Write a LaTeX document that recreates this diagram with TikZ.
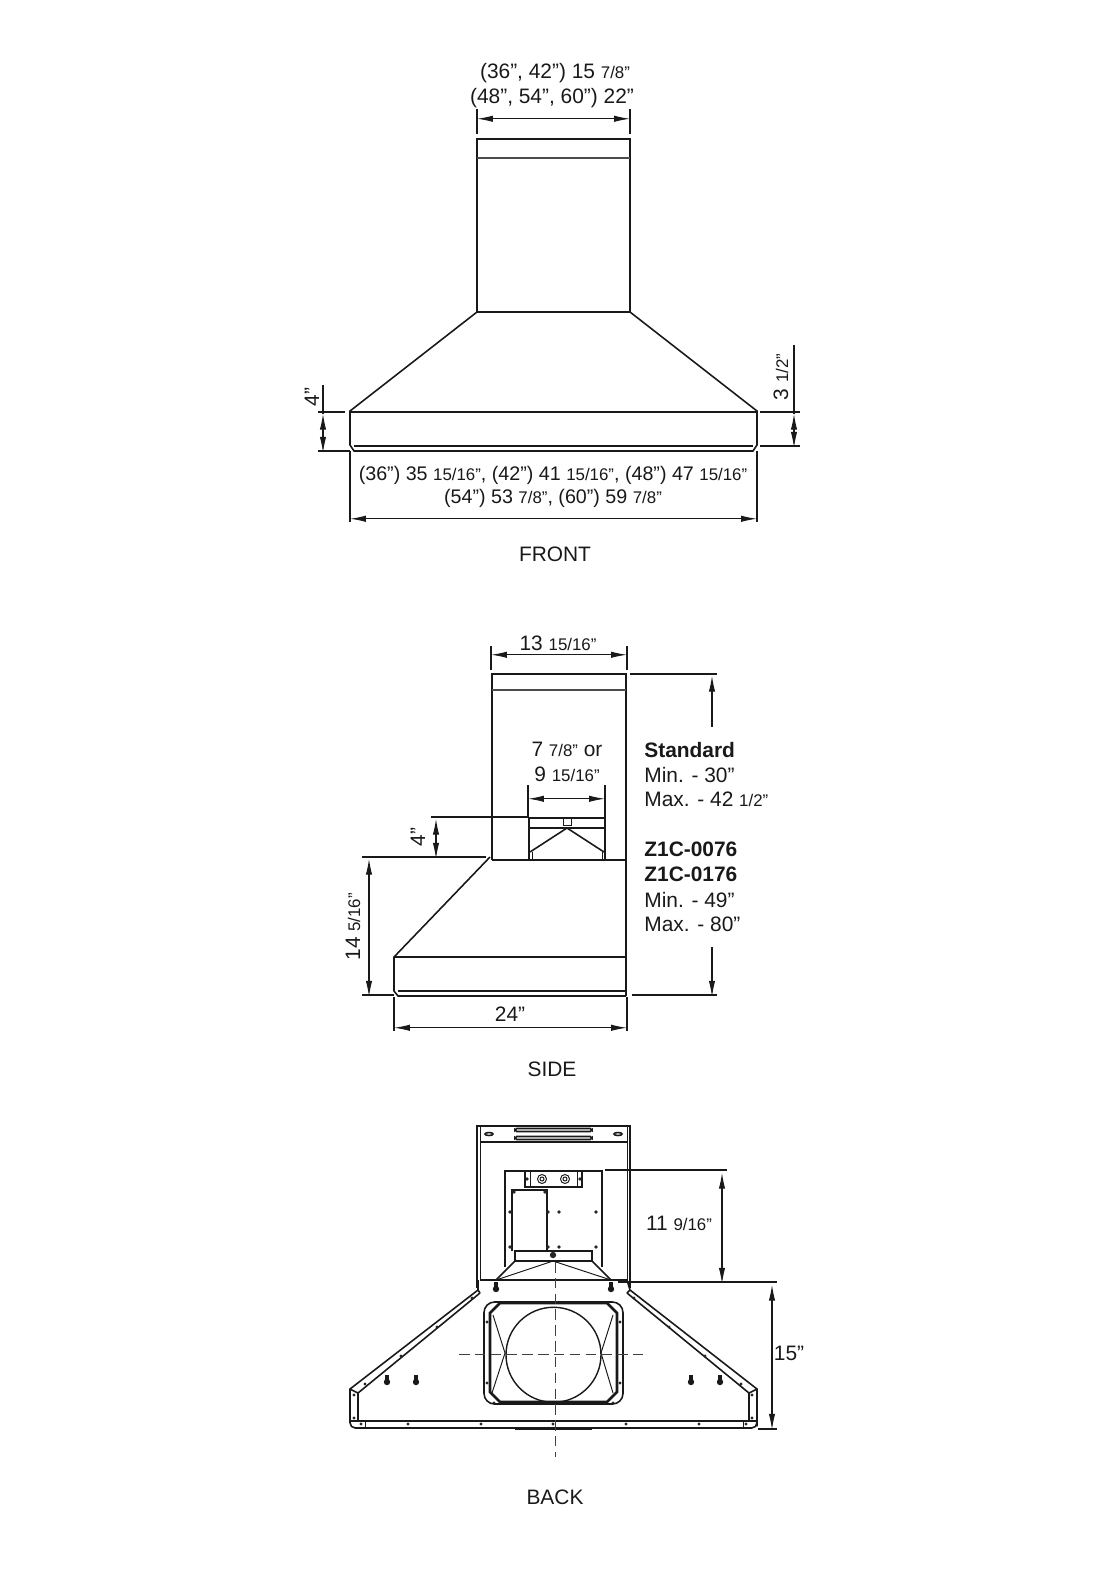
\documentclass[tikz,border=0pt]{standalone}
\usepackage{fontspec}
\setmainfont{Liberation Sans}
\usetikzlibrary{arrows.meta, positioning, calc}
\newcommand{\sm}[1]{{\fontsize{9.6}{11}\selectfont #1}}

\begin{document}
\begin{tikzpicture}[x=0.02cm,y=-0.02cm,
    every node/.style={font=\fontsize{11.9}{14}\selectfont,inner sep=0pt,text=black!90,yshift=-1pt},
    boldtext/.style={font=\fontsize{11.9}{14}\selectfont\bfseries},
    body/.style={line width=0.9pt,black!90},
    bandline/.style={line width=0.9pt,black!70},
    thickline/.style={line width=1.5pt,black!90},
    thinline/.style={line width=0.55pt,black!90},
    extline/.style={line width=0.6pt,black!90},
    dimline/.style={line width=0.6pt,black!90,{Latex[length=9pt,width=3.6pt]}-{Latex[length=9pt,width=3.6pt]}},
    centerline/.style={line width=0.5pt,black!75,dash pattern=on 6pt off 3pt}]
  \useasboundingbox (0,0) rectangle (1110,1570);

  % front view
  \coordinate (fa) at (477,117);
  \coordinate (fb) at (630,117);
  \coordinate (fc) at (350,517);
  \coordinate (fd) at (757,517);
  \coordinate (fe) at (323,412);
  \coordinate (ff) at (323,451);
  \coordinate (fg) at (794,412);
  \coordinate (fh) at (794,446);
  \draw[body] (477,139) rectangle (630,312);
  \draw[bandline] (477,158) -- (630,158);
  \draw[body] (477,312) -- (350,411) -- (350,445) -- (354,451) -- (753,451) -- (757,445) -- (757,411) -- (630,312);
  \draw[thickline] (350,412) -- (757,412);
  \draw[thickline] (354,446) -- (753,446);
  \draw[thickline] (510,451) -- (597,451);
  \draw[extline] (477,109) -- (477,134);
  \draw[extline] (630,109) -- (630,134);
  \draw[dimline] (fa) -- (fb);
  \draw[extline] (350,451) -- (350,522);
  \draw[extline] (757,451) -- (757,522);
  \draw[dimline] (fc) -- (fd);
  \draw[extline] (318,412) -- (345,412);
  \draw[extline] (318,451) -- (350,451);
  \draw[extline] (323,385) -- (fe);
  \draw[dimline] (fe) -- (ff);
  \draw[extline] (760,412) -- (800,412);
  \draw[extline] (760,446) -- (800,446);
  \draw[extline] (794,345) -- (fg);
  \draw[dimline] (fg) -- (fh);
  \node (fw1) at (555,71) {(36”, 42”) 15 \sm{7/8”}};
  \node (fw2) at (552,96) {(48”, 54”, 60”) 22”};
  \node[font=\fontsize{11.2}{14}\selectfont] (fl1) at (553,474) {(36”) 35 \sm{15/16”}, (42”) 41 \sm{15/16”}, (48”) 47 \sm{15/16”}};
  \node[font=\fontsize{11.2}{14}\selectfont] (fl2) at (553,497) {(54”) 53 \sm{7/8”}, (60”) 59 \sm{7/8”}};
  \node[rotate=90] (fh1) at (312,395) {4”};
  \node[rotate=90] (fh2) at (781,375) {3 \sm{1/2”}};
  \node (front) at (555,553) {FRONT};

  % side view
  \coordinate (sa) at (491,653);
  \coordinate (sb) at (627,653);
  \coordinate (sc) at (528,797);
  \coordinate (sd) at (605,797);
  \coordinate (se) at (436,817);
  \coordinate (sf) at (436,857);
  \coordinate (sg) at (369,857);
  \coordinate (sh) at (369,995);
  \coordinate (si) at (394,1026);
  \coordinate (sj) at (627,1026);
  \coordinate (sk) at (712,674);
  \coordinate (sl) at (712,725);
  \coordinate (sm) at (712,945);
  \coordinate (sn) at (712,995);
  \draw[body] (492,860) -- (492,674) -- (626,674) -- (626,996);
  \draw[bandline] (492,690) -- (626,690);
  \draw[body] (492,860) -- (626,860);
  \draw[body] (490,857) -- (394,957) -- (394,991) -- (398,996) -- (626,996);
  \draw[thickline] (394,957) -- (626,957);
  \draw[thickline] (398,991) -- (626,991);
  % motor inside the chimney
  \draw[body] (529,860) -- (529,818) -- (605,818) -- (605,860);
  \draw[body] (529,828) -- (605,828);
  \draw[thinline] (563,818) rectangle (571,825);
  \draw[body] (530,852) -- (567,828) -- (604,852);
  \draw[thinline] (532,852) -- (532,860);
  \draw[thinline] (602,852) -- (602,860);
  \draw[extline] (491,646) -- (491,670);
  \draw[extline] (627,646) -- (627,670);
  \draw[dimline] (sa) -- (sb);
  \draw[extline] (528,785) -- (528,818);
  \draw[extline] (605,785) -- (605,818);
  \draw[dimline] (sc) -- (sd);
  \draw[extline] (431,817) -- (528,817);
  \draw[extline] (362,857) -- (486,857);
  \draw[dimline] (se) -- (sf);
  \draw[extline] (362,995) -- (394,995);
  \draw[dimline] (sg) -- (sh);
  \draw[extline] (394,997) -- (394,1031);
  \draw[extline] (627,997) -- (627,1031);
  \draw[dimline] (si) -- (sj);
  \draw[extline] (630,674) -- (717,674);
  \draw[extline] (632,995) -- (717,995);
  \draw[{Latex[length=9pt,width=3.6pt]}-,extline] (sk) -- (sl);
  \draw[{Latex[length=9pt,width=3.6pt]}-,extline] (sn) -- (sm);
  \node (sw) at (558,642) {13 \sm{15/16”}};
  \node (sd1) at (567,748) {7 \sm{7/8”} or};
  \node (sd2) at (567,773) {9 \sm{15/16”}};
  \node[rotate=90] (sh1) at (418,835) {4”};
  \node[rotate=90] (sh2) at (353,925) {14 \sm{5/16”}};
  \node (sl1) at (510,1012) {24”};
  \node[anchor=west,boldtext] (std) at (644,748) {Standard};
  \node[anchor=west] (std1) at (644,773) {Min. - 30”};
  \node[anchor=west] (std2) at (644,798) {Max. - 42 \sm{1/2”}};
  \node[anchor=west,boldtext] (zc1) at (644,848) {Z1C-0076};
  \node[anchor=west,boldtext] (zc2) at (644,873) {Z1C-0176};
  \node[anchor=west] (zc3) at (644,898) {Min. - 49”};
  \node[anchor=west] (zc4) at (644,923) {Max. - 80”};
  \node (side) at (552,1068) {SIDE};

  % back view, chimney
  \draw[thickline] (477,1152) -- (477,1288);
  \draw[thickline] (630,1152) -- (630,1288);
  \draw[body] (477,1152) -- (477,1126) -- (630,1126) -- (630,1152);
  \draw[thinline] (480,1126) -- (480,1280);
  \draw[thinline] (627,1126) -- (627,1280);
  \draw[body] (480,1142) -- (627,1142);
  \foreach \y in {1130,1138} {
    \draw[body,rounded corners=1pt] (515,\y-1.5) rectangle (592,\y+1.5);
  }
  \foreach \x in {489,618} {
    \draw[body] (\x,1134) ellipse (4 and 1.5);
  }
  % back view, plate and bracket
  \draw[body] (505,1267) -- (505,1171) -- (602,1171) -- (602,1267);
  \draw[body] (525,1171) -- (525,1187) -- (582,1187) -- (582,1171);
  \draw[thinline] (530,1171) -- (530,1187);
  \draw[thinline] (577,1171) -- (577,1187);
  \foreach \x in {542,565} {
    \draw[thinline] (\x,1179) circle (4.5);
    \draw[thinline] (\x,1179) circle (2);
  }
  \draw[body] (512,1251) -- (512,1190) -- (547,1190) -- (547,1251);
  \foreach \x/\y in {514/1192,545/1192,510/1212,548/1212,510/1247,548/1247,559/1212,596/1212,559/1247,596/1247,527/1179,580/1179} {
    \fill[black!85] (\x,\y) circle (1.9);
  }
  % back view, blower
  \draw[body] (515,1261) -- (515,1251) -- (592,1251) -- (592,1261);
  \draw[body] (515,1261) -- (592,1261);
  \draw[body] (515,1261) -- (496,1280);
  \draw[body] (592,1261) -- (611,1280);
  \draw[thinline] (496,1280) -- (553,1261) -- (611,1280);
  \fill[black!85] (553,1255) circle (3.2);
  \draw[body] (480,1280) -- (627,1280);
  \foreach \x/\y in {496/1287,611/1287,387/1380,416/1380,691/1380,720/1380} {
    \fill[black!90] (\x,\y+2) circle (3.2);
    \fill[black!90] (\x-1.8,\y-5) rectangle (\x+1.8,\y+2);
  }
  % back view, hood
  \draw[body] (478,1280) -- (478,1290) -- (350,1389) -- (350,1421) [rounded corners=3pt] -- (350,1428) -- (757,1428) -- (757,1421) [sharp corners] -- (757,1389) -- (630,1290) -- (627,1280);
  \draw[body] (480,1293) -- (358,1393) -- (350,1389);
  \draw[body] (627,1293) -- (749,1393) -- (757,1389);
  \draw[body] (478,1290) -- (480,1293);
  \draw[body] (630,1290) -- (627,1293);
  \draw[body] (358,1393) -- (358,1421);
  \draw[body] (749,1393) -- (749,1421);
  \draw[body] (350,1421) -- (757,1421);
  \draw[thinline] (365,1421) -- (365,1428);
  \draw[thinline] (743,1421) -- (743,1428);
  \draw[thickline] (515,1429) -- (592,1429);
  \foreach \x/\y in {361/1424,408/1424,481/1424,553/1424,626/1424,699/1424,746/1424,354/1395,354/1418,752/1395,752/1418,472/1298,437/1327,401/1356,365/1384,634/1298,669/1327,705/1356,741/1384,487/1322,487/1383,620/1322,620/1383,494/1403,508/1403,599/1403,613/1403} {
    \fill[black!85] (\x,\y) circle (1.7);
  }
  % back view, duct opening
  \draw[body,rounded corners=6pt] (484,1302) rectangle (623,1404);
  \draw[thickline] (490,1313) -- (500,1303) -- (607,1303) -- (617,1313) -- (617,1392) -- (607,1402) -- (500,1402) -- (490,1392) -- cycle;
  \node[draw,circle,line width=0.8pt,black!90,minimum size=95*0.02cm] (duct) at (553.5,1353) {};
  \draw[thinline] (493,1315) -- (505,1353) -- (492,1393);
  \draw[thinline] (613,1315) -- (601,1353) -- (613,1393);
  \draw[centerline] (555,1262) -- (555,1457);
  \draw[centerline] (459,1354) -- (647,1354);
  % back view, dimensions
  \coordinate (ba) at (722,1171);
  \coordinate (bb) at (722,1282);
  \coordinate (bc) at (772,1283);
  \coordinate (bd) at (772,1428);
  \draw[extline] (605,1170) -- (727,1170);
  \draw[extline] (618,1282) -- (777,1282);
  \draw[extline] (758,1429) -- (777,1429);
  \draw[dimline] (ba) -- (bb);
  \draw[dimline] (bc) -- (bd);
  \node (bh1) at (679,1222) {11 \sm{9/16”}};
  \node (bh2) at (789,1352) {15”};
  \node (back) at (555,1496) {BACK};
\end{tikzpicture}
\end{document}
